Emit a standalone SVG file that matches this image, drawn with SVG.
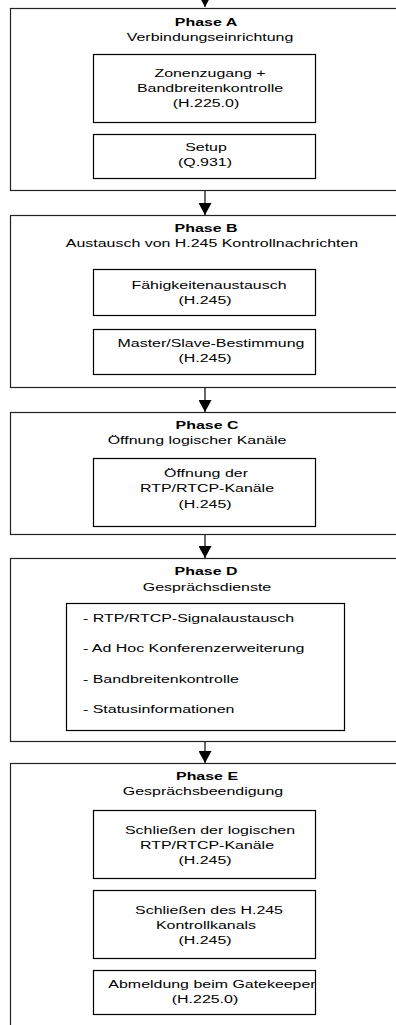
<svg xmlns="http://www.w3.org/2000/svg" width="396" height="1025" viewBox="0 0 396 1025">
<style>
text{font-family:"Liberation Sans",Arial,sans-serif;font-size:11px;fill:#000}
.c{text-anchor:middle}
.b{font-weight:bold}
.l{text-anchor:start}
.outer{fill:#fff;stroke:#222;stroke-width:1.2}
.inner{fill:#fff;stroke:#000;stroke-width:1.2}
.conn{stroke:#000;stroke-width:1.2;fill:none}
</style>
<defs>
<marker id="ah" markerUnits="userSpaceOnUse" viewBox="0 0 12 13" refX="12" refY="6.5" markerWidth="12" markerHeight="13" orient="auto">
<path d="M0,0 L12,6.5 L0,13 z" fill="#000"/>
</marker>
</defs>
<rect width="396" height="1025" fill="#fff"/>

<g id="phaseA">
<rect class="outer" x="10.5" y="8.5" width="400" height="182"/>
<text class="c b" transform="translate(206,26) scale(1.45,1)">Phase A</text>
<text class="c" transform="translate(210,41) scale(1.45,1)">Verbindungseinrichtung</text>
</g>
<g id="a1">
<rect class="inner" x="93.5" y="54.5" width="222" height="68"/>
<text class="c" transform="translate(210,77) scale(1.45,1)">Zonenzugang +</text>
<text class="c" transform="translate(210,92) scale(1.45,1)">Bandbreitenkontrolle</text>
<text class="c" transform="translate(206,107) scale(1.45,1)">(H.225.0)</text>
</g>
<g id="a2">
<rect class="inner" x="93.5" y="134.5" width="222" height="44"/>
<text class="c" transform="translate(206,151) scale(1.45,1)">Setup</text>
<text class="c" transform="translate(205,166) scale(1.45,1)">(Q.931)</text>
</g>

<g id="phaseB">
<rect class="outer" x="10.5" y="215.5" width="400" height="172"/>
<text class="c b" transform="translate(206,232) scale(1.45,1)">Phase B</text>
<text class="c" transform="translate(212,247) scale(1.45,1)">Austausch von H.245 Kontrollnachrichten</text>
</g>
<g id="b1">
<rect class="inner" x="93.5" y="269.5" width="222" height="46"/>
<text class="c" transform="translate(209,289) scale(1.45,1)">Fähigkeitenaustausch</text>
<text class="c" transform="translate(205,304) scale(1.45,1)">(H.245)</text>
</g>
<g id="b2">
<rect class="inner" x="93.5" y="329.5" width="222" height="45"/>
<text class="c" transform="translate(211,347) scale(1.45,1)">Master/Slave-Bestimmung</text>
<text class="c" transform="translate(205,362) scale(1.45,1)">(H.245)</text>
</g>

<g id="phaseC">
<rect class="outer" x="10.5" y="412.5" width="400" height="122"/>
<text class="c b" transform="translate(207,429) scale(1.45,1)">Phase C</text>
<text class="c" transform="translate(197,444) scale(1.45,1)">Öffnung logischer Kanäle</text>
</g>
<g id="c1">
<rect class="inner" x="93.5" y="458.5" width="222" height="68"/>
<text class="c" transform="translate(206,477) scale(1.45,1)">Öffnung der</text>
<text class="c" transform="translate(207,492) scale(1.45,1)">RTP/RTCP-Kanäle</text>
<text class="c" transform="translate(205,508) scale(1.45,1)">(H.245)</text>
</g>

<g id="phaseD">
<rect class="outer" x="10.5" y="558.5" width="400" height="183"/>
<text class="c b" transform="translate(206,575) scale(1.45,1)">Phase D</text>
<text class="c" transform="translate(207,591) scale(1.45,1)">Gesprächsdienste</text>
</g>
<g id="d1">
<rect class="inner" x="66.5" y="603.5" width="278" height="127"/>
<text class="l" transform="translate(83,622) scale(1.45,1)">- RTP/RTCP-Signalaustausch</text>
<text class="l" transform="translate(83,652) scale(1.45,1)">- Ad Hoc Konferenzerweiterung</text>
<text class="l" transform="translate(83,683) scale(1.45,1)">- Bandbreitenkontrolle</text>
<text class="l" transform="translate(83,713) scale(1.45,1)">- Statusinformationen</text>
</g>

<g id="phaseE">
<rect class="outer" x="10.5" y="763.5" width="400" height="290"/>
<text class="c b" transform="translate(207,780) scale(1.45,1)">Phase E</text>
<text class="c" transform="translate(203,795) scale(1.45,1)">Gesprächsbeendigung</text>
</g>
<g id="e1">
<rect class="inner" x="93.5" y="810.5" width="222" height="68"/>
<text class="c" transform="translate(210,834) scale(1.45,1)">Schließen der logischen</text>
<text class="c" transform="translate(207,849) scale(1.45,1)">RTP/RTCP-Kanäle</text>
<text class="c" transform="translate(205,864) scale(1.45,1)">(H.245)</text>
</g>
<g id="e2">
<rect class="inner" x="93.5" y="890.5" width="222" height="68"/>
<text class="c" transform="translate(209,914) scale(1.45,1)">Schließen des H.245</text>
<text class="c" transform="translate(206,929) scale(1.45,1)">Kontrollkanals</text>
<text class="c" transform="translate(205,944) scale(1.45,1)">(H.245)</text>
</g>
<g id="e3">
<rect class="inner" x="93.5" y="970.5" width="222" height="44"/>
<text class="c" transform="translate(212,988) scale(1.45,1)">Abmeldung beim Gatekeeper</text>
<text class="c" transform="translate(205,1003) scale(1.45,1)">(H.225.0)</text>
</g>

<g id="connectors">
<line class="conn" x1="205" y1="-10" x2="205" y2="7" marker-end="url(#ah)"/>
<line class="conn" x1="205" y1="191" x2="205" y2="215" marker-end="url(#ah)"/>
<line class="conn" x1="205" y1="388" x2="205" y2="412" marker-end="url(#ah)"/>
<line class="conn" x1="205" y1="535" x2="205" y2="558" marker-end="url(#ah)"/>
<line class="conn" x1="205" y1="742" x2="205" y2="763" marker-end="url(#ah)"/>
</g>
</svg>
